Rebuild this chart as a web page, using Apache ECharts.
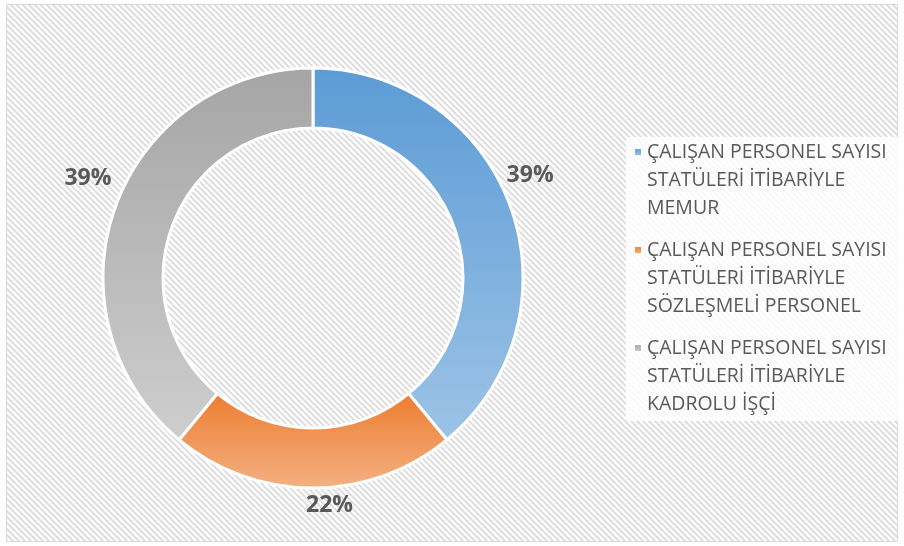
<!DOCTYPE html>
<html>
<head>
<meta charset="utf-8">
<script src="https://cdn.jsdelivr.net/npm/echarts@6/dist/echarts.min.js"></script>
<style>
  html, body { margin: 0; padding: 0; background: #fff; }
  #main { width: 904px; height: 546px; }
</style>
</head>
<body>
<div id="main"></div>
<script>
const categories = [
  'ÇALIŞAN PERSONEL SAYISI\nSTATÜLERİ İTİBARİYLE\nMEMUR',
  'ÇALIŞAN PERSONEL SAYISI\nSTATÜLERİ İTİBARİYLE\nSÖZLEŞMELİ PERSONEL',
  'ÇALIŞAN PERSONEL SAYISI\nSTATÜLERİ İTİBARİYLE\nKADROLU İŞÇİ'
];
const shares = [39, 22, 39];

const topColors = ['#5b9bd5', '#ed7d31', '#a5a5a5'];
const bottomColors = ['#9dc3e6', '#f4b183', '#cecece'];
const labelNudge = [[-9, -31], [45, 17], [1, -28]];

// diagonal hatch tile for the chart area
function hatch() {
  const c = document.createElement('canvas');
  c.width = 6; c.height = 6;
  const ctx = c.getContext('2d');
  ctx.fillStyle = '#ffffff';
  ctx.fillRect(0, 0, 6, 6);
  ctx.strokeStyle = '#dedede';
  ctx.lineWidth = 2;
  for (let k = -1; k <= 1; k++) {
    ctx.beginPath();
    ctx.moveTo(k * 6 - 1, -1);
    ctx.lineTo(k * 6 + 7, 7);
    ctx.stroke();
  }
  return c;
}

const chart = echarts.init(document.getElementById('main'));

const option = {
  backgroundColor: '#ffffff',
  animation: false,
  graphic: [
    {
      type: 'rect',
      silent: true,
      z: -10,
      shape: { x: 6.5, y: 4.5, width: 891, height: 537 },
      style: { fill: { image: hatch(), repeat: 'repeat' }, stroke: '#d9d9d9', lineWidth: 1 }
    },
    {
      type: 'rect',
      silent: true,
      z: -9,
      shape: { x: 626, y: 137, width: 272, height: 284 },
      style: { fill: 'rgba(255,255,255,0.8)' }
    }
  ],
  legend: {
    orient: 'vertical',
    left: 633,
    top: 82,
    padding: 0,
    icon: 'rect',
    itemWidth: 8,
    itemHeight: 8,
    itemGap: -42,
    data: categories,
    // two blank lines first so the marker sits beside the first text line
    formatter: name => '\n\n' + name,
    textStyle: {
      fontFamily: 'Open Sans',
      fontSize: 19.5,
      lineHeight: 28,
      color: '#595959'
    }
  },
  series: [
    {
      type: 'pie',
      center: [313, 278],
      radius: [150, 210],
      startAngle: 90,
      clockwise: true,
      avoidLabelOverlap: false,
      itemStyle: { borderColor: '#ffffff', borderWidth: 3 },
      labelLine: { show: false, length: 0, length2: 0 },
      label: {
        show: true,
        position: 'outside',
        fontFamily: 'Open Sans',
        fontSize: 23,
        fontWeight: 'bold',
        color: '#595959',
        formatter: p => Math.round(p.percent) + '%'
      },
      emphasis: { disabled: true },
      data: categories.map((name, i) => ({
        name: name,
        value: shares[i],
        itemStyle: {
          color: new echarts.graphic.LinearGradient(0, 0, 0, 1, [
            { offset: 0, color: topColors[i] },
            { offset: 1, color: bottomColors[i] }
          ])
        },
        label: { offset: labelNudge[i] }
      }))
    }
  ]
};

chart.setOption(option);
</script>
</body>
</html>
